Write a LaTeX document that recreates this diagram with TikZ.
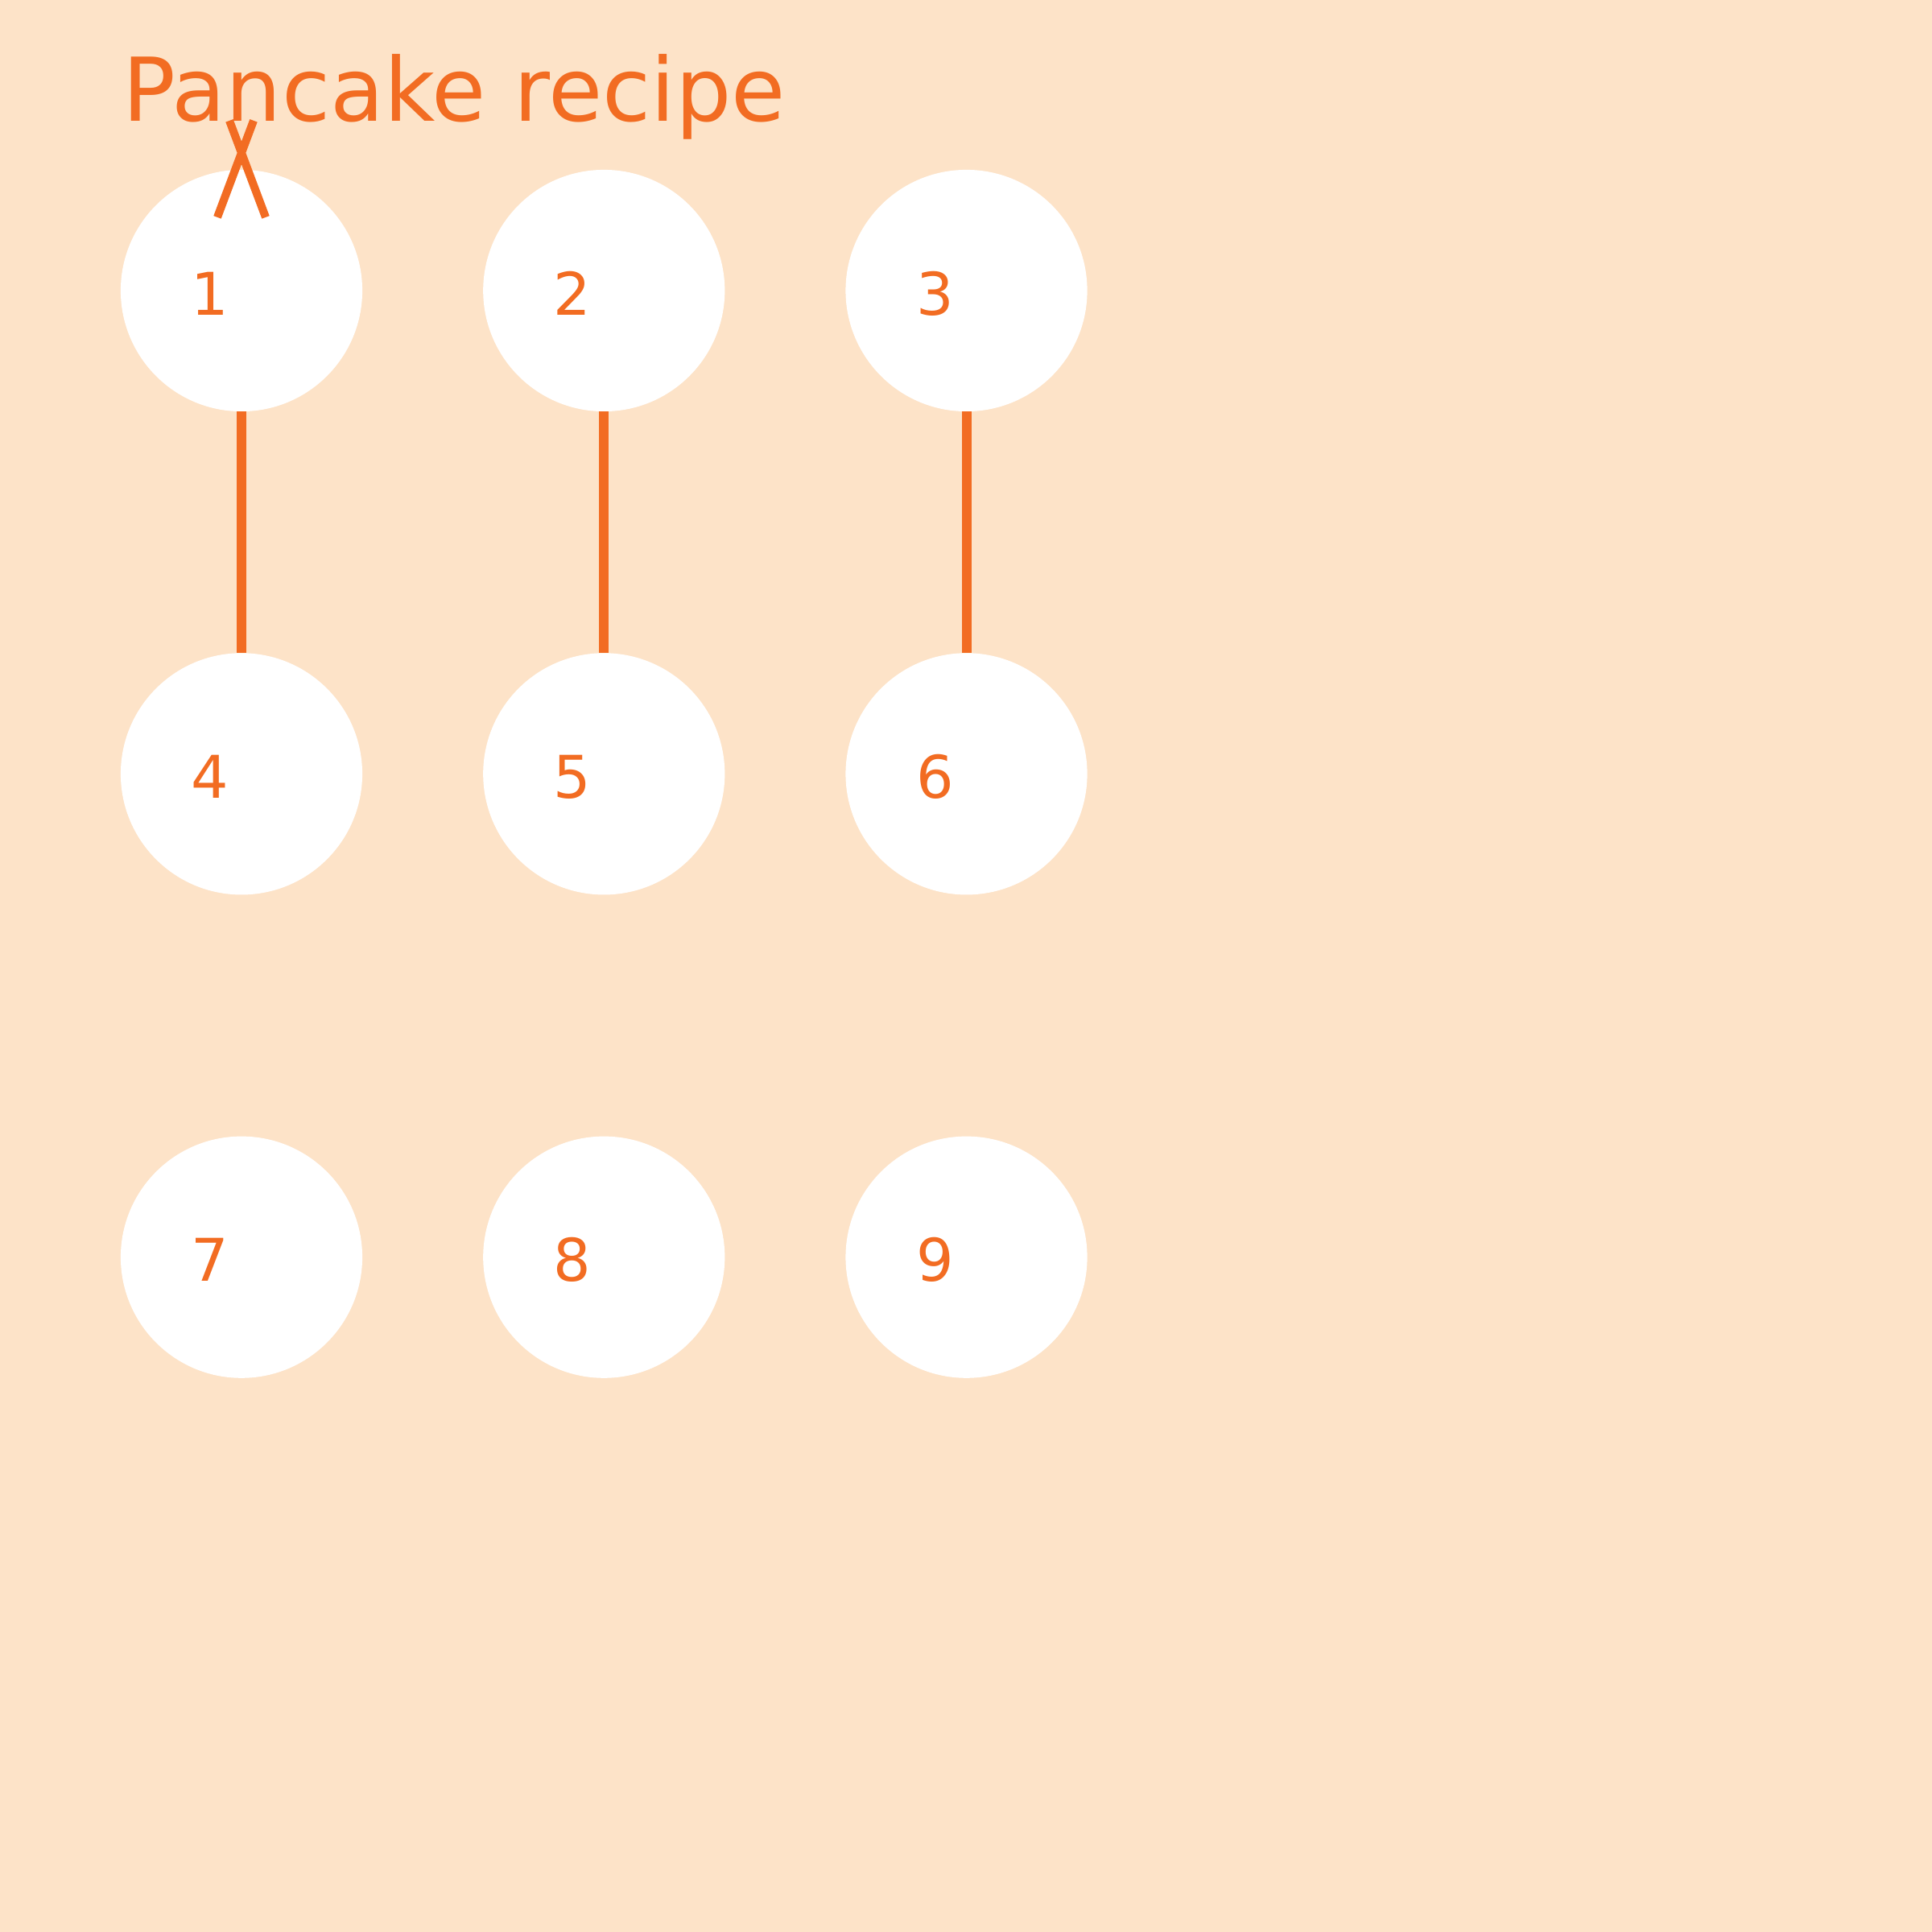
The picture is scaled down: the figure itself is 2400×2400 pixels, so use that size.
\documentclass[tikz,border=0pt]{standalone}
\usepackage{fontspec}
\setmainfont{DejaVu Sans}
\usepackage{xcolor}
\usetikzlibrary{positioning}
\definecolor{peach}{HTML}{FDE3C8}
\definecolor{carrot}{HTML}{F26C22}

\begin{document}
\begin{tikzpicture}[x=0.01cm, y=-0.01cm, node distance=1.5cm]
    % Stili
    \tikzstyle{stepcircle}=[circle, fill=white, minimum size=3cm, inner sep=0pt, outer sep=0pt]
    \tikzstyle{num}=[inner sep=0pt, xshift=-0.39cm, yshift=-0.035cm, text=carrot, font=\fontsize{20.8}{25}\selectfont]
    \tikzstyle{link}=[draw=carrot, line width=1.2mm]
    \tikzstyle{tipline}=[draw=carrot, line width=1mm]

    % Sfondo
    \fill[peach] (0,0) rectangle (2400,2400);
    \useasboundingbox (0,0) rectangle (2400,2400);

    % Titolo
    \node (title) [anchor=base west, inner sep=0pt, text=carrot, font=\fontsize{31.1}{37}\selectfont] at (152,150) {Pancake recipe};

    % Passi
    \node (s1) [stepcircle, label={[num]center:1}] at (300,361) {};
    \node (s2) [stepcircle, label={[num]center:2}, right=of s1] {};
    \node (s3) [stepcircle, label={[num]center:3}, right=of s2] {};
    \node (s4) [stepcircle, label={[num]center:4}, below=3cm of s1] {};
    \node (s5) [stepcircle, label={[num]center:5}, right=of s4] {};
    \node (s6) [stepcircle, label={[num]center:6}, right=of s5] {};
    \node (s7) [stepcircle, label={[num]center:7}, below=3cm of s4] {};
    \node (s8) [stepcircle, label={[num]center:8}, right=of s7] {};
    \node (s9) [stepcircle, label={[num]center:9}, right=of s8] {};

    % Punta
    \coordinate [above=0.61cm of s1.north] (tip);
    \draw [tipline] (tip) ++(-30,120) -- ++(45,-120) (tip) ++(30,120) -- ++(-45,-120);

    % Collegamenti
    \draw [link] (s1) -- (s4);
    \draw [link] (s2) -- (s5);
    \draw [link] (s3) -- (s6);

\end{tikzpicture}
\end{document}
